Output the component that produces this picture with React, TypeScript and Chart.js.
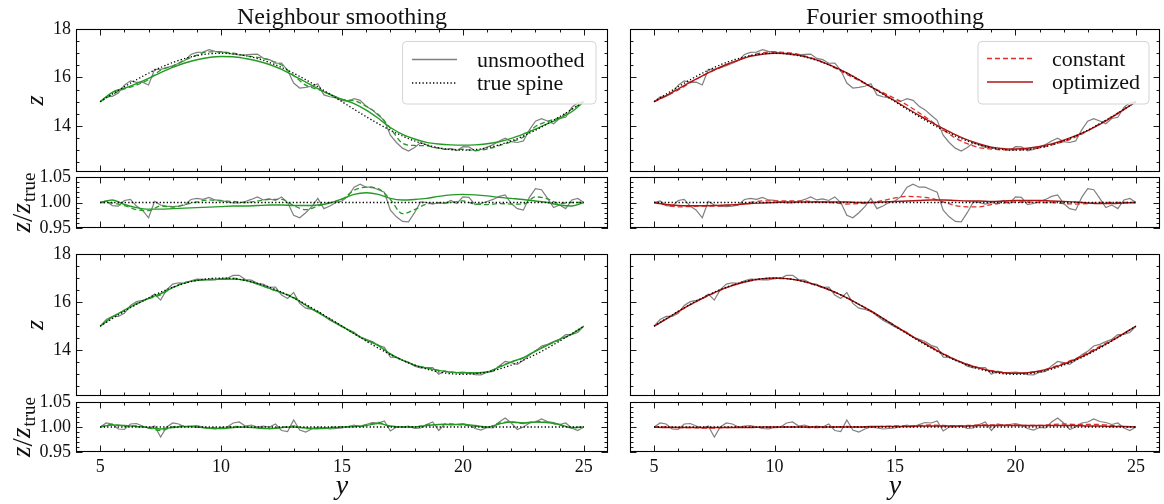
import React, { useEffect, useRef } from 'react';
import { Chart, registerables } from 'chart.js';

Chart.register(...registerables);

// ---------- data ----------
const X_FINE = [5, 5.25, 5.5, 5.75, 6, 6.25, 6.5, 6.75, 7, 7.25, 7.5, 7.75, 8, 8.25, 8.5, 8.75, 9, 9.25, 9.5, 9.75, 10, 10.25, 10.5, 10.75, 11, 11.25, 11.5, 11.75, 12, 12.25, 12.5, 12.75, 13, 13.25, 13.5, 13.75, 14, 14.25, 14.5, 14.75, 15, 15.25, 15.5, 15.75, 16, 16.25, 16.5, 16.75, 17, 17.25, 17.5, 17.75, 18, 18.25, 18.5, 18.75, 19, 19.25, 19.5, 19.75, 20, 20.25, 20.5, 20.75, 21, 21.25, 21.5, 21.75, 22, 22.25, 22.5, 22.75, 23, 23.25, 23.5, 23.75, 24, 24.25, 24.5, 24.75, 25];
const X_COARSE = [5, 5.5, 6, 6.5, 7, 7.5, 8, 8.5, 9, 9.5, 10, 10.5, 11, 11.5, 12, 12.5, 13, 13.5, 14, 14.5, 15, 15.5, 16, 16.5, 17, 17.5, 18, 18.5, 19, 19.5, 20, 20.5, 21, 21.5, 22, 22.5, 23, 23.5, 24, 24.5, 25];

// true spine z on the fine grid
const TRUE_SPINE = [
  15.000, 15.157, 15.313, 15.467, 15.618, 15.765, 15.908, 16.045, 16.176, 16.299,
  16.414, 16.521, 16.618, 16.705, 16.782, 16.848, 16.902, 16.945, 16.975, 16.994,
  17.000, 16.994, 16.975, 16.945, 16.902, 16.848, 16.782, 16.705, 16.618, 16.521,
  16.414, 16.299, 16.176, 16.045, 15.908, 15.765, 15.618, 15.467, 15.313, 15.157,
  15.000, 14.843, 14.687, 14.533, 14.382, 14.235, 14.092, 13.955, 13.824, 13.701,
  13.586, 13.479, 13.382, 13.295, 13.218, 13.152, 13.098, 13.055, 13.025, 13.006,
  13.000, 13.006, 13.025, 13.055, 13.098, 13.152, 13.218, 13.295, 13.382, 13.479,
  13.586, 13.701, 13.824, 13.955, 14.092, 14.235, 14.382, 14.533, 14.687, 14.843,
  15.000,
];

// unsmoothed z / z_true (fine grid)
const UNSMOOTHED_TOP = [
  1.000, 1.003, 0.994, 0.993, 1.004, 1.006, 0.993, 0.985, 0.970, 1.002,
  0.995, 0.993, 0.992, 0.993, 0.995, 1.006, 1.008, 1.006, 1.010, 1.005,
  1.004, 1.001, 0.999, 0.999, 1.002, 1.006, 1.011, 1.005, 1.007, 1.004,
  1.011, 1.000, 0.975, 0.970, 0.980, 0.992, 1.008, 0.988, 0.993, 1.000,
  1.003, 1.012, 1.030, 1.036, 1.030, 1.030, 1.025, 1.020, 0.985, 0.972,
  0.963, 0.962, 0.980, 1.001, 1.000, 0.997, 1.000, 0.998, 1.004, 0.998,
  1.011, 1.010, 0.996, 0.998, 1.002, 1.006, 1.012, 1.015, 0.998, 0.988,
  0.985, 1.010, 1.027, 1.025, 1.008, 0.990, 0.995, 0.988, 1.005, 1.008,
  1.000,
];
const UNSMOOTHED_BOTTOM = [
  1.000, 1.008, 1.006, 0.996, 0.995, 1.006, 1.007, 1.002, 0.998, 1.002,
  0.980, 1.000, 1.008, 1.006, 1.000, 1.002, 1.003, 1.000, 0.997, 0.996,
  0.999, 1.000, 1.008, 1.010, 1.002, 1.004, 1.000, 1.002, 1.000, 1.006,
  0.993, 0.991, 1.014, 0.994, 0.990, 0.996, 1.000, 0.998, 0.996, 0.997,
  0.998, 1.001, 1.004, 1.000, 1.005, 1.009, 1.008, 1.012, 0.992, 1.000,
  1.000, 1.002, 0.997, 0.998, 1.005, 1.010, 0.993, 1.006, 1.004, 1.005,
  1.007, 1.004, 0.997, 0.994, 0.999, 0.998, 1.010, 1.018, 1.008, 0.995,
  1.000, 1.008, 1.010, 1.016, 1.011, 1.009, 1.005, 1.008, 0.998, 0.993,
  1.000,
];

// smoothed z / z_true (coarse grid)
const NEIGH_CONST_TOP = [
  1.000, 0.999, 0.994, 0.986, 0.984, 0.993, 0.991, 0.996, 1.001, 1.005,
  1.003, 1.002, 1.000, 1.003, 1.006, 1.006, 0.994, 0.986, 0.993, 1.000,
  1.006, 1.024, 1.030, 1.027, 1.006, 0.978, 0.986, 0.997, 0.999, 1.000,
  1.003, 0.997, 0.996, 0.998, 0.997, 0.997, 1.011, 1.007, 0.998, 1.000,
  1.000,
];
const NEIGH_OPT_TOP = [
  1.000, 1.005, 0.996, 0.990, 0.987, 0.987, 0.988, 0.989, 0.990, 0.991,
  0.992, 0.993, 0.993, 0.994, 0.995, 0.995, 0.994, 0.994, 0.995, 0.999,
  1.007, 1.016, 1.019, 1.016, 1.008, 1.005, 1.006, 1.008, 1.012, 1.015,
  1.016, 1.015, 1.013, 1.010, 1.008, 1.006, 1.003, 1.000, 0.995, 0.993,
  1.000,
];
const FOURIER_CONST_TOP = [
  1.000, 0.995, 0.9915, 0.992, 0.993, 0.993, 0.994, 0.996, 1.000, 1.003,
  1.003, 1.003, 1.003, 1.002, 1.001, 0.999, 0.997, 0.998, 1.000, 1.004,
  1.009, 1.012, 1.011, 1.008, 1.001, 0.994, 0.9915, 0.9915, 0.996, 0.999,
  1.001, 1.001, 1.000, 1.000, 0.998, 0.997, 0.998, 1.000, 1.000, 1.000,
  1.000,
];
const FOURIER_OPT_TOP = [
  1.000, 0.996, 0.994, 0.9935, 0.9935, 0.994, 0.995, 0.996, 0.998, 0.999,
  1.000, 1.001, 1.001, 1.001, 1.001, 1.001, 1.001, 1.000, 1.000, 1.001,
  1.002, 1.003, 1.004, 1.005, 1.005, 1.004, 1.003, 1.003, 1.002, 1.003,
  1.004, 1.004, 1.004, 1.003, 1.002, 1.001, 0.999, 0.998, 0.998, 0.999,
  1.000,
];
const NEIGH_CONST_BOTTOM = [
  1.000, 1.005, 1.002, 1.002, 0.998, 0.993, 1.000, 1.002, 1.000, 0.998,
  0.998, 1.001, 1.000, 0.999, 0.997, 0.999, 1.002, 0.997, 0.997, 0.999,
  1.000, 1.001, 1.004, 1.009, 1.001, 1.000, 1.000, 1.004, 1.005, 1.006,
  1.004, 1.002, 0.999, 1.008, 1.010, 1.007, 1.011, 1.009, 1.004, 0.998,
  1.000,
];
const NEIGH_OPT_BOTTOM = [
  1.000, 1.004, 1.003, 1.001, 0.999, 0.996, 0.999, 1.001, 1.000, 0.998,
  0.997, 0.999, 1.000, 0.998, 0.997, 0.999, 1.000, 0.998, 0.997, 0.998,
  1.000, 1.001, 1.003, 1.007, 1.002, 1.000, 1.000, 1.003, 1.005, 1.005,
  1.005, 1.003, 1.000, 1.006, 1.010, 1.008, 1.010, 1.009, 1.005, 0.999,
  1.000,
];
const FOURIER_CONST_BOTTOM = [
  1.000, 1.000, 0.999, 0.999, 0.998, 0.998, 0.999, 1.000, 1.000, 0.999,
  0.999, 1.000, 1.000, 0.999, 0.999, 1.000, 1.001, 1.000, 1.000, 1.001,
  1.002, 1.002, 1.003, 1.004, 1.003, 1.002, 1.003, 1.004, 1.004, 1.004,
  1.004, 1.003, 1.003, 1.005, 1.006, 1.005, 1.005, 1.005, 1.003, 1.001,
  1.000,
];
const FOURIER_OPT_BOTTOM = [
  1.000, 0.999, 0.999, 0.999, 0.999, 0.999, 0.999, 0.999, 0.999, 1.000,
  1.000, 1.000, 1.000, 1.000, 1.000, 1.000, 1.000, 1.000, 1.001, 1.001,
  1.001, 1.001, 1.002, 1.002, 1.002, 1.002, 1.002, 1.003, 1.003, 1.003,
  1.003, 1.003, 1.003, 1.003, 1.003, 1.003, 1.002, 1.002, 1.001, 1.001,
  1.000,
];

// ticks and labels
const X_MAJOR = [5, 10, 15, 20, 25];
const X_MINOR = [6, 7, 8, 9, 11, 12, 13, 14, 16, 17, 18, 19, 21, 22, 23, 24];
const Z_MAJOR = [14, 16, 18];
const Z_MINOR = [12.5, 13, 13.5, 14.5, 15, 15.5, 16.5, 17, 17.5];
const R_MAJOR = [0.95, 1.0, 1.05];
const R_MINOR = [0.96, 0.97, 0.98, 0.99, 1.01, 1.02, 1.03, 1.04];
const TITLES = ['Neighbour smoothing', 'Fourier smoothing'];
const LEGEND_LEFT = ['unsmoothed', 'true spine'];
const LEGEND_RIGHT = ['constant', 'optimized'];

// ---------- styles ----------
const SERIF = '"Liberation Serif", "DejaVu Serif", serif';
const GRAY = '#808080';
const GREEN = '#239b23';
const RED_CONST = '#e0302a';
const RED_OPT = '#ae1616';
const TEXT = '#111';

type Panel = { col: number; row: number; kind: 'main' | 'ratio' };
const PANELS: Panel[] = [
  { col: 0, row: 0, kind: 'main' },
  { col: 0, row: 0, kind: 'ratio' },
  { col: 0, row: 1, kind: 'main' },
  { col: 0, row: 1, kind: 'ratio' },
  { col: 1, row: 0, kind: 'main' },
  { col: 1, row: 0, kind: 'ratio' },
  { col: 1, row: 1, kind: 'main' },
  { col: 1, row: 1, kind: 'ratio' },
];

const COLS = [
  { left: 76, right: 608 },
  { left: 630, right: 1160 },
];
const ROWS = [
  { main: [29, 172], ratio: [177, 228] },
  { main: [254, 396], ratio: [402, 452] },
];

function drawLegend(ctx: CanvasRenderingContext2D, box: number[], lineX: number[], textX: number, items: { label: string; color: string; dash: number[]; width: number }[], rowsY: number[]) {
  const [x0, y0, x1, y1] = box;
  const r = 4;
  ctx.save();
  ctx.beginPath();
  ctx.moveTo(x0 + r, y0);
  ctx.arcTo(x1, y0, x1, y1, r);
  ctx.arcTo(x1, y1, x0, y1, r);
  ctx.arcTo(x0, y1, x0, y0, r);
  ctx.arcTo(x0, y0, x1, y0, r);
  ctx.closePath();
  ctx.fillStyle = 'rgba(255,255,255,0.85)';
  ctx.fill();
  ctx.strokeStyle = '#d4d4d4';
  ctx.lineWidth = 1;
  ctx.stroke();
  items.forEach((it, i) => {
    const y = rowsY[i];
    ctx.beginPath();
    ctx.setLineDash(it.dash);
    ctx.strokeStyle = it.color;
    ctx.lineWidth = it.width;
    ctx.moveTo(lineX[0], y);
    ctx.lineTo(lineX[1], y);
    ctx.stroke();
    ctx.setLineDash([]);
    ctx.fillStyle = TEXT;
    ctx.font = '22px ' + SERIF;
    ctx.textAlign = 'left';
    ctx.textBaseline = 'alphabetic';
    ctx.fillText(it.label, textX, y + 7);
  });
  ctx.restore();
}

function makeDeco(p: Panel) {
  return {
    id: 'deco',
    afterDraw(chart: any) {
      const ctx: CanvasRenderingContext2D = chart.ctx;
      const a = chart.chartArea;
      const xs = chart.scales.x;
      const ys = chart.scales.y;
      const yMajor = p.kind === 'main' ? Z_MAJOR : R_MAJOR;
      const yMinor = p.kind === 'main' ? Z_MINOR : R_MINOR;
      ctx.save();
      // inward ticks on all four sides
      ctx.strokeStyle = '#000';
      ctx.lineWidth = 0.9;
      ctx.beginPath();
      const xt = (vals: number[], len: number) => {
        vals.forEach((v) => {
          const px = Math.round(xs.getPixelForValue(v)) + 0.5;
          ctx.moveTo(px, a.bottom);
          ctx.lineTo(px, a.bottom - len);
          ctx.moveTo(px, a.top);
          ctx.lineTo(px, a.top + len);
        });
      };
      const yt = (vals: number[], len: number) => {
        vals.forEach((v) => {
          const py = Math.round(ys.getPixelForValue(v)) + 0.5;
          ctx.moveTo(a.left, py);
          ctx.lineTo(a.left + len, py);
          ctx.moveTo(a.right, py);
          ctx.lineTo(a.right - len, py);
        });
      };
      xt(X_MAJOR, 6.5);
      xt(X_MINOR, 3.5);
      yt(yMajor, 6.5);
      yt(yMinor, 3.5);
      ctx.stroke();
      ctx.lineWidth = 1.1;
      ctx.strokeRect(a.left + 0.5, a.top + 0.5, a.right - a.left - 1, a.bottom - a.top - 1);

      const cx = (a.left + a.right) / 2;
      const cy = (a.top + a.bottom) / 2;
      ctx.fillStyle = TEXT;
      // panel title
      if (p.row === 0 && p.kind === 'main') {
        ctx.font = '24px ' + SERIF;
        ctx.textAlign = 'center';
        ctx.textBaseline = 'alphabetic';
        ctx.fillText(TITLES[p.col], cx, 23.5);
      }
      // x axis label
      if (p.row === 1 && p.kind === 'ratio') {
        ctx.font = 'italic 28px ' + SERIF;
        ctx.textAlign = 'center';
        ctx.textBaseline = 'alphabetic';
        ctx.fillText('y', cx, 494);
      }
      // y axis labels
      if (p.col === 0) {
        ctx.save();
        if (p.kind === 'main') {
          ctx.translate(43, cy);
          ctx.rotate(-Math.PI / 2);
          ctx.font = 'italic 26px ' + SERIF;
          ctx.textAlign = 'center';
          ctx.textBaseline = 'alphabetic';
          ctx.fillText('z', 0, 0);
        } else {
          ctx.translate(30, cy);
          ctx.rotate(-Math.PI / 2);
          const fz = 'italic 27px ' + SERIF;
          const fs = '30px ' + SERIF;
          const ft = '19px ' + SERIF;
          ctx.font = fz;
          const wz = ctx.measureText('z').width;
          ctx.font = fs;
          const wsl = ctx.measureText('/').width;
          ctx.font = ft;
          const wt = ctx.measureText('true').width;
          let x0 = -(wz * 2 + wsl + wt + 1) / 2;
          ctx.textAlign = 'left';
          ctx.textBaseline = 'alphabetic';
          ctx.font = fz;
          ctx.fillText('z', x0, 0);
          x0 += wz;
          ctx.font = fs;
          ctx.fillText('/', x0, 2);
          x0 += wsl;
          ctx.font = fz;
          ctx.fillText('z', x0, 0);
          x0 += wz + 1;
          ctx.font = ft;
          ctx.fillText('true', x0, 5);
        }
        ctx.restore();
      }
      // legends
      if (p.row === 0 && p.kind === 'main') {
        if (p.col === 0) {
          drawLegend(ctx, [402.5, 41.5, 596, 104], [412, 457], 477,
            [
              { label: LEGEND_LEFT[0], color: GRAY, dash: [], width: 1.3 },
              { label: LEGEND_LEFT[1], color: '#000', dash: [1.3, 2.2], width: 1.4 },
            ], [59.5, 83]);
        } else {
          drawLegend(ctx, [978, 41.5, 1149, 104], [987, 1033], 1052,
            [
              { label: LEGEND_RIGHT[0], color: RED_CONST, dash: [5, 3], width: 1.3 },
              { label: LEGEND_RIGHT[1], color: RED_OPT, dash: [], width: 1.4 },
            ], [58.5, 82]);
        }
      }
      ctx.restore();
    },
  };
}

function buildChart(canvas: HTMLCanvasElement, p: Panel) {
  const col = COLS[p.col];
  const [T, B] = ROWS[p.row][p.kind];
  const isMain = p.kind === 'main';
  const showX = p.row === 1 && !isMain;
  const showY = p.col === 0;
  const xH = 30;

  const gray = p.row === 0 ? UNSMOOTHED_TOP : UNSMOOTHED_BOTTOM;
  const cst = p.col === 0
    ? (p.row === 0 ? NEIGH_CONST_TOP : NEIGH_CONST_BOTTOM)
    : (p.row === 0 ? FOURIER_CONST_TOP : FOURIER_CONST_BOTTOM);
  const opt = p.col === 0
    ? (p.row === 0 ? NEIGH_OPT_TOP : NEIGH_OPT_BOTTOM)
    : (p.row === 0 ? FOURIER_OPT_TOP : FOURIER_OPT_BOTTOM);
  const color = p.col === 0 ? GREEN : RED_CONST;
  const colorOpt = p.col === 0 ? GREEN : RED_OPT;

  const fine = (vals: number[]) => X_FINE.map((x, i) => ({ x, y: isMain ? vals[i] * TRUE_SPINE[i] : vals[i] }));
  const coarse = (vals: number[]) => X_COARSE.map((x, i) => ({ x, y: isMain ? vals[i] * TRUE_SPINE[i * 2] : vals[i] }));
  const trueLine = X_FINE.map((x, i) => ({ x, y: isMain ? TRUE_SPINE[i] : TRUE_SPINE[i] / TRUE_SPINE[i] }));

  const tickFont = { family: SERIF, size: 18 };

  return new Chart(canvas, {
    type: 'line',
    data: {
      datasets: [
        { label: 'unsmoothed', data: fine(gray), borderColor: GRAY, borderWidth: 1.2, tension: 0, order: 4 },
        { label: 'constant', data: coarse(cst), borderColor: color, borderWidth: 1.3, borderDash: [5, 3], cubicInterpolationMode: 'monotone', order: 3 },
        { label: 'optimized', data: coarse(opt), borderColor: colorOpt, borderWidth: 1.4, cubicInterpolationMode: 'monotone', order: 2 },
        { label: 'true spine', data: trueLine, borderColor: '#000', borderWidth: 1.3, borderDash: [1.3, 2.2], tension: 0.3, order: 1 },
      ] as any,
    },
    options: {
      animation: false,
      responsive: false,
      maintainAspectRatio: false,
      devicePixelRatio: 1,
      events: [],
      layout: {
        padding: {
          left: showY ? 0 : col.left,
          right: 1164 - col.right,
          top: T,
          bottom: 504 - B - (showX ? xH : 0),
        },
      },
      elements: { point: { radius: 0 }, line: { fill: false } },
      plugins: { legend: { display: false }, tooltip: { enabled: false }, title: { display: false } },
      scales: {
        x: {
          type: 'linear',
          min: 4,
          max: 26,
          display: showX,
          grid: { display: false, drawTicks: false },
          border: { display: false },
          ticks: { font: tickFont, color: TEXT, padding: 4, maxRotation: 0, autoSkip: false },
          afterBuildTicks: (s: any) => { s.ticks = X_MAJOR.map((v) => ({ value: v })); },
          afterFit: (s: any) => { s.height = showX ? xH : 0; },
        },
        y: {
          type: 'linear',
          min: isMain ? 12.1 : 0.95,
          max: isMain ? 18 : 1.05,
          display: showY,
          grid: { display: false, drawTicks: false },
          border: { display: false },
          ticks: {
            font: tickFont,
            color: TEXT,
            padding: 5,
            autoSkip: false,
            callback: (v: any) => (isMain ? String(v) : Number(v).toFixed(2)),
          },
          afterBuildTicks: (s: any) => { s.ticks = (isMain ? Z_MAJOR : R_MAJOR).map((v) => ({ value: v })); },
          afterFit: (s: any) => { s.width = showY ? col.left : 0; },
        },
      },
    } as any,
    plugins: [makeDeco(p)],
  });
}

export default function App() {
  const refs = useRef<(HTMLCanvasElement | null)[]>([]);
  useEffect(() => {
    const charts = PANELS.map((p, i) => buildChart(refs.current[i] as HTMLCanvasElement, p));
    return () => charts.forEach((c) => c.destroy());
  }, []);
  return (
    <div style={{ position: 'fixed', left: 0, top: 0, width: 1164, height: 504, background: '#fff', overflow: 'hidden' }}>
      {PANELS.map((p, i) => (
        <canvas
          key={i}
          ref={(el) => { refs.current[i] = el; }}
          width={1164}
          height={504}
          style={{ position: 'absolute', left: 0, top: 0, width: 1164, height: 504 }}
        />
      ))}
    </div>
  );
}
